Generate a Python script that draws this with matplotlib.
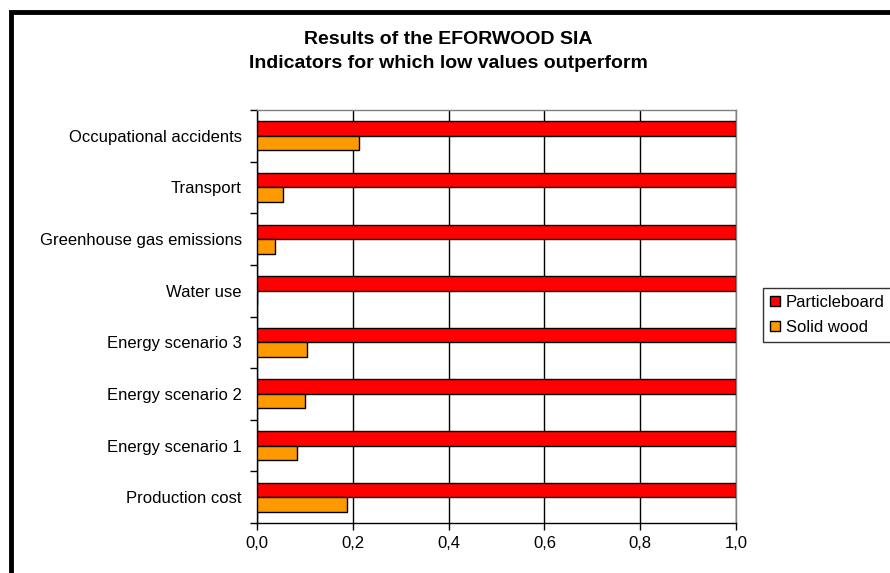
import matplotlib.pyplot as plt
import numpy as np
from matplotlib.patches import Rectangle
from matplotlib.ticker import FuncFormatter, FixedLocator

plt.rcParams['font.family'] = ['Liberation Sans', 'DejaVu Sans']

# Indicators, bottom to top
categories = ['Production cost', 'Energy scenario 1', 'Energy scenario 2',
              'Energy scenario 3', 'Water use', 'Greenhouse gas emissions',
              'Transport', 'Occupational accidents']
particleboard = [1.0, 1.0, 1.0, 1.0, 1.0, 1.0, 1.0, 1.0]
solid_wood = [0.187, 0.084, 0.100, 0.104, 0.0, 0.038, 0.055, 0.213]

fig = plt.figure(figsize=(8.9, 5.73), dpi=100)
ax = fig.add_axes([257 / 890, 1 - 523 / 573, 479 / 890, 413 / 573])

y = np.arange(len(categories))
h = 0.28
ax.barh(y + h / 2, particleboard, height=h, color='#ff0000',
        edgecolor='black', linewidth=1, label='Particleboard', zorder=3)
ax.barh(y - h / 2, solid_wood, height=h, color='#ff9900',
        edgecolor='black', linewidth=1, label='Solid wood', zorder=3)

ax.set_xlim(0, 1.0)
ax.set_ylim(-0.5, len(categories) - 0.5)
ax.set_xticks(np.arange(0, 1.01, 0.2))
ax.xaxis.set_major_formatter(FuncFormatter(lambda v, p: f'{v:.1f}'.replace('.', ',')))
ax.grid(axis='x', color='black', linewidth=1, zorder=0)

ax.set_yticks(y)
ax.set_yticklabels(categories)
ax.yaxis.set_minor_locator(FixedLocator(np.arange(-0.5, len(categories), 1.0)))
ax.tick_params(axis='y', which='major', length=0, pad=11, labelsize=12)
ax.tick_params(axis='y', which='minor', length=5, width=1, color='black')
ax.tick_params(axis='x', length=5, width=1, labelsize=12, pad=4)

for side in ('top', 'right'):
    ax.spines[side].set_color('#808080')
for side in ('left', 'bottom'):
    ax.spines[side].set_color('black')
for s in ax.spines.values():
    s.set_linewidth(1)

fig.text(448 / 890, 1 - 40 / 573, 'Results of the EFORWOOD SIA',
         ha='center', va='center', fontsize=14, fontweight='bold')
fig.text(448 / 890, 1 - 63 / 573, 'Indicators for which low values outperform',
         ha='center', va='center', fontsize=14, fontweight='bold')

leg = fig.legend(loc='center left', bbox_to_anchor=(763 / 890, 1 - 315 / 573),
                 frameon=True, fancybox=False, edgecolor='black',
                 fontsize=12, handlelength=0.6, handleheight=0.6,
                 handletextpad=0.35, borderpad=0.4, labelspacing=0.6,
                 borderaxespad=0)
leg.get_frame().set_linewidth(1)

# Outer chart border
fig.patches.append(Rectangle((10.5 / 890, -0.1), 1.2, 1 - 12 / 573 + 0.1,
                             transform=fig.transFigure, fill=False,
                             edgecolor='black', linewidth=3.5))

fig.savefig('out.png', dpi=100)
